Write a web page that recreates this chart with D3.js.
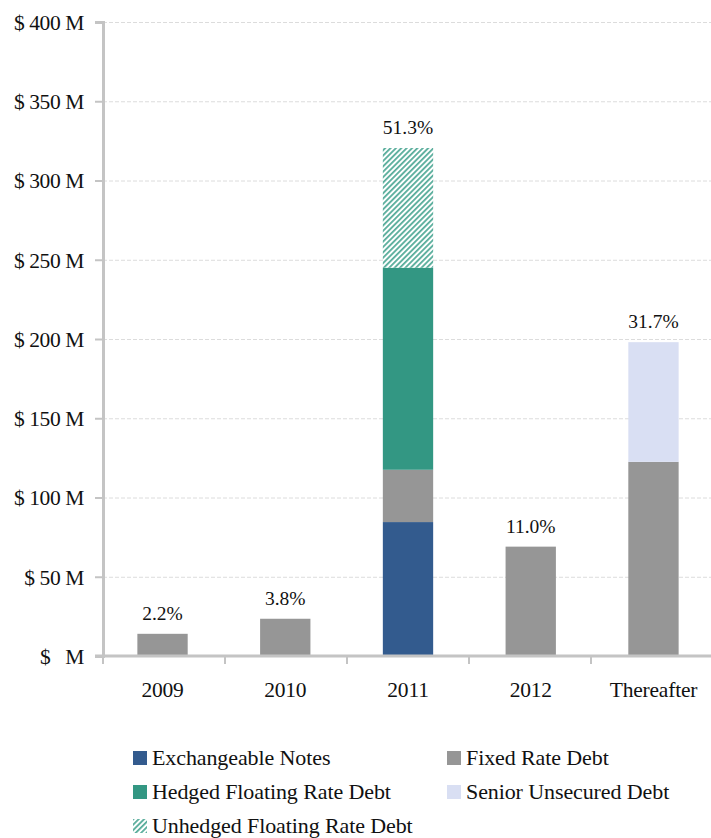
<!DOCTYPE html>
<html>
<head>
<meta charset="utf-8">
<script src="https://cdn.jsdelivr.net/npm/d3@7"></script>
<style>
  html, body { margin: 0; padding: 0; background: #fff; }
  svg { display: block; }
  svg text { font-family: "Liberation Serif", "DejaVu Serif", serif; }
</style>
</head>
<body>
<svg id="chart" width="711" height="838"></svg>
<script>
// Debt maturity schedule, stacked by debt type ($ millions)
const categories = ["2009", "2010", "2011", "2012", "Thereafter"];
const exchangeableNotes = [0, 0, 84.5, 0, 0];
const fixedRateDebt = [14, 23.5, 33, 69, 122.5];
const hedgedFloating = [0, 0, 127.5, 0, 0];
const seniorUnsecured = [0, 0, 0, 0, 75.5];
const unhedgedFloating = [0, 0, 75.5, 0, 0];
const pctLabels = ["2.2%", "3.8%", "51.3%", "11.0%", "31.7%"];
const yTicks = [0, 50, 100, 150, 200, 250, 300, 350, 400];

const FONT = "'Liberation Serif', 'DejaVu Serif', serif";

const seriesDefs = [
  { key: "exch", name: "Exchangeable Notes", values: exchangeableNotes, fill: "#335b8e" },
  { key: "fixed", name: "Fixed Rate Debt", values: fixedRateDebt, fill: "#969696" },
  { key: "hedged", name: "Hedged Floating Rate Debt", values: hedgedFloating, fill: "#339783" },
  { key: "senior", name: "Senior Unsecured Debt", values: seniorUnsecured, fill: "#d9dff3" },
  { key: "unhedged", name: "Unhedged Floating Rate Debt", values: unhedgedFloating, fill: "url(#hatch)" }
];

const svg = d3.select("#chart");
const margin = { left: 103, right: 0, top: 22, bottom: 182 };
const W = 711, H = 838;
const plotBottom = H - margin.bottom; // 656
const band = 122;

// diagonal hatch for the unhedged portion
const defs = svg.append("defs");
const pat = defs.append("pattern")
  .attr("id", "hatch").attr("patternUnits", "userSpaceOnUse")
  .attr("width", 3.8).attr("height", 3.8)
  .attr("patternTransform", "rotate(45)");
pat.append("rect").attr("width", 3.8).attr("height", 3.8).attr("fill", "#fff");
pat.append("rect").attr("x", 0).attr("y", 0).attr("width", 1.8).attr("height", 3.8).attr("fill", "#58ad9b");

const x = d3.scaleBand().domain(categories)
  .range([margin.left, margin.left + categories.length * band])
  .paddingInner(0.59).paddingOuter(0.28);
const y = d3.scaleLinear().domain([0, 400]).range([plotBottom, margin.top]);

// gridlines
svg.append("g").selectAll("line").data(yTicks.filter(d => d > 0)).join("line")
  .attr("x1", margin.left).attr("x2", W)
  .attr("y1", d => y(d) + 0.5).attr("y2", d => y(d) + 0.5)
  .attr("stroke", "#dcdcdc").attr("stroke-width", 1).attr("stroke-dasharray", "4,2");

// stacked bars
const table = categories.map((c, i) => {
  const row = { cat: c };
  seriesDefs.forEach(s => row[s.key] = s.values[i]);
  return row;
});
const stack = d3.stack().keys(seriesDefs.map(s => s.key));
const stacked = stack(table);

svg.append("g").selectAll("g").data(stacked).join("g")
  .attr("fill", (d, i) => seriesDefs[i].fill)
  .selectAll("rect").data(d => d.filter(p => p[1] - p[0] > 0)).join("rect")
  .attr("x", d => x(d.data.cat))
  .attr("width", x.bandwidth())
  .attr("y", d => y(d[1]))
  .attr("height", d => y(d[0]) - y(d[1]));

// percentage labels above bars
const totals = table.map(r => seriesDefs.reduce((a, s) => a + r[s.key], 0));
svg.append("g").selectAll("text").data(categories).join("text")
  .attr("x", d => x(d) + x.bandwidth() / 2)
  .attr("y", (d, i) => y(totals[i]) - 14)
  .attr("text-anchor", "middle")
  .attr("font-family", FONT)
  .attr("font-size", 19.5).attr("fill", "#111")
  .text((d, i) => pctLabels[i]);

// y axis
const yAxis = d3.axisLeft(y).tickValues(yTicks).tickSize(8).tickPadding(11)
  .tickFormat(d => d === 0 ? "$\u00a0\u00a0\u00a0M" : `$ ${d} M`);
const gy = svg.append("g").attr("transform", `translate(${margin.left},0)`).call(yAxis)
  .attr("font-family", FONT);
gy.select(".domain").attr("stroke", "#c4c4c4").attr("stroke-width", 3);
gy.selectAll(".tick line").attr("stroke", "#c4c4c4").attr("stroke-width", 2);
gy.selectAll(".tick text").attr("font-size", 21.5).attr("fill", "#111")
  .attr("font-family", FONT).attr("letter-spacing", "-0.4")
  .attr("dy", "0.34em");

// x axis
const gx = svg.append("g").attr("transform", `translate(0,${plotBottom})`);
gx.append("line").attr("x1", margin.left - 8).attr("x2", W).attr("y1", 0).attr("y2", 0)
  .attr("stroke", "#c4c4c4").attr("stroke-width", 3);
const boundaries = d3.range(categories.length).map(i => margin.left + i * band);
gx.selectAll("line.tk").data(boundaries).join("line").attr("class", "tk")
  .attr("x1", d => d).attr("x2", d => d).attr("y1", 0).attr("y2", 8)
  .attr("stroke", "#c4c4c4").attr("stroke-width", 2);
gx.selectAll("text").data(categories).join("text")
  .attr("x", d => x(d) + x.bandwidth() / 2).attr("y", 41)
  .attr("text-anchor", "middle").attr("font-size", 21.5).attr("fill", "#111")
  .attr("font-family", FONT).attr("letter-spacing", "-0.2")
  .text(d => d);

// legend
const legendOrder = ["exch", "fixed", "hedged", "senior", "unhedged"];
const lg = svg.append("g");
legendOrder.forEach((k, i) => {
  const s = seriesDefs.find(d => d.key === k);
  const col = i % 2, row = Math.floor(i / 2);
  const lx = 133 + col * 314, ly = 751 + row * 34;
  lg.append("rect").attr("x", lx).attr("y", ly).attr("width", 14).attr("height", 14).attr("fill", s.fill);
  lg.append("text").attr("x", lx + 19).attr("y", ly + 14).attr("font-size", 22).attr("fill", "#111")
    .attr("font-family", FONT).attr("letter-spacing", "-0.1").text(s.name);
});
</script>
</body>
</html>
